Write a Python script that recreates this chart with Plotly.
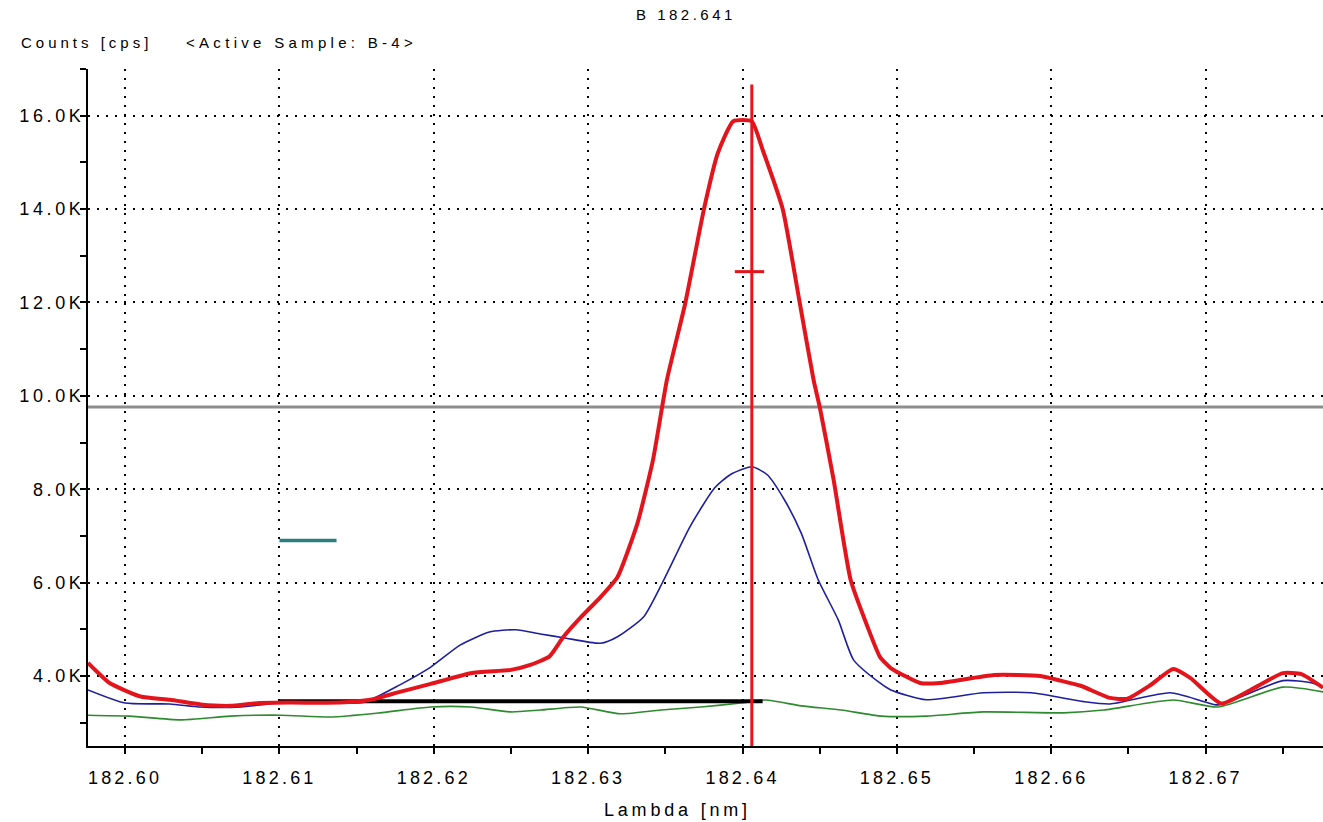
import plotly.graph_objects as go

# ---- spectrum data: wavelength (nm) and intensity (cps) ----
red_lambda = [182.5976, 182.5990, 182.6010, 182.6029, 182.6049, 182.6068, 182.6087, 182.6107,
              182.6139, 182.6159, 182.6178, 182.6198, 182.6224, 182.6250, 182.6262, 182.6275,
              182.6284, 182.6295, 182.6308, 182.6319, 182.6332, 182.6342, 182.6351, 182.6363,
              182.6375, 182.6384, 182.6394, 182.6406, 182.6413, 182.6426, 182.6437, 182.6446,
              182.6450, 182.6459, 182.6470, 182.6481, 182.6489, 182.6496, 182.6515, 182.6528,
              182.6563, 182.6593, 182.6606, 182.6619, 182.6638, 182.6649, 182.6664, 182.6679,
              182.6690, 182.6710, 182.6729, 182.6750, 182.6762, 182.6776]
red_counts = [4280, 3850, 3560, 3490, 3390, 3360, 3420, 3430,
              3430, 3490, 3660, 3830, 4060, 4130, 4230, 4420,
              4840, 5250, 5690, 6120, 7280, 8630, 10340, 12000,
              14000, 15200, 15880, 15880, 15270, 14000, 12000, 10340,
              9760, 8200, 6060, 5050, 4410, 4170, 3850, 3850,
              4020, 4000, 3900, 3790, 3530, 3510, 3800, 4150,
              3960, 3410, 3700, 4060, 4040, 3750]

blue_lambda = [182.5976, 182.6000, 182.6029, 182.6049, 182.6075, 182.6100, 182.6127, 182.6155,
               182.6178, 182.6198, 182.6217, 182.6236, 182.6253, 182.6269, 182.6284, 182.6308,
               182.6319, 182.6336, 182.6349, 182.6366, 182.6382, 182.6392, 182.6406, 182.6416,
               182.6427, 182.6438, 182.6449, 182.6462, 182.6472, 182.6489, 182.6496, 182.6519,
               182.6556, 182.6587, 182.6621, 182.6638, 182.6677, 182.6699, 182.6708, 182.6750,
               182.6769, 182.6776]
blue_counts = [3700, 3420, 3400, 3335, 3335, 3420, 3420, 3440,
               3810, 4190, 4660, 4940, 4990, 4900, 4820, 4700,
               4840, 5270, 6060, 7200, 8030, 8310, 8480, 8310,
               7780, 7060, 6060, 5200, 4340, 3850, 3700, 3490,
               3640, 3640, 3450, 3400, 3640, 3450, 3380, 3900,
               3850, 3750]

green_lambda = [182.5976, 182.6003, 182.6036, 182.6068, 182.6101, 182.6133, 182.6165, 182.6198,
                182.6224, 182.6250, 182.6269, 182.6295, 182.6321, 182.6347, 182.6373, 182.6399,
                182.6415, 182.6438, 182.6464, 182.6490, 182.6519, 182.6556, 182.6608, 182.6634,
                182.6679, 182.6708, 182.6750, 182.6776]
green_counts = [3160, 3140, 3060, 3140, 3160, 3120, 3210, 3335,
                3335, 3230, 3270, 3335, 3190, 3270, 3335, 3420,
                3485, 3360, 3270, 3140, 3140, 3230, 3210, 3270,
                3485, 3335, 3760, 3660]

# background level, marker bar, peak position and threshold
baseline_lambda = [182.6100, 182.6413]
baseline_counts = [3460, 3460]
marker_lambda = [182.6100, 182.6137]
marker_counts = [6900, 6900]
peak_line_lambda = [182.6406, 182.6406]
peak_line_counts = [2500, 16670]
peak_tick_lambda = [182.6395, 182.6414]
peak_tick_counts = [12660, 12660]
threshold_counts = 9760

# ---- axis ticks ----
x_tick_vals = [182.60, 182.61, 182.62, 182.63, 182.64, 182.65, 182.66, 182.67]
x_tick_text = ["182.60", "182.61", "182.62", "182.63", "182.64", "182.65", "182.66", "182.67"]
y_tick_vals = [4000, 6000, 8000, 10000, 12000, 14000, 16000]
y_tick_text = ["4.0K", "6.0K", "8.0K", "10.0K", "12.0K", "14.0K", "16.0K"]

X_RANGE = [182.5976, 182.6776]
Y_RANGE = [2500, 17000]

W, H = 1323, 822
ML, MR, MT, MB = 88, 0, 69, 76
PW, PH = W - ML - MR, H - MT - MB

FONT = "Liberation Sans, Arial, sans-serif"
INK = "#000000"


def spaced(s, ls):
    return f"<span style='letter-spacing:{ls}px'>{s}</span>"


def px_x(px):
    return (px - ML) / PW


def px_y(py):
    return (H - MB - py) / PH


fig = go.Figure()

fig.add_hline(y=threshold_counts, line=dict(color="#8e8e8e", width=3), layer="below")

fig.add_trace(go.Scatter(x=green_lambda, y=green_counts, mode="lines",
                         line=dict(color="#2e8a2e", width=1.6, shape="spline", smoothing=0.6)))
fig.add_trace(go.Scatter(x=baseline_lambda, y=baseline_counts, mode="lines",
                         line=dict(color="#000000", width=4)))
fig.add_trace(go.Scatter(x=blue_lambda, y=blue_counts, mode="lines",
                         line=dict(color="#1f1f9e", width=1.6, shape="spline", smoothing=0.6)))
fig.add_trace(go.Scatter(x=red_lambda, y=red_counts, mode="lines",
                         line=dict(color="#e3141c", width=4, shape="spline", smoothing=0.5)))
fig.add_trace(go.Scatter(x=peak_line_lambda, y=peak_line_counts, mode="lines",
                         line=dict(color="#e8141c", width=3)))
fig.add_trace(go.Scatter(x=peak_tick_lambda, y=peak_tick_counts, mode="lines",
                         line=dict(color="#e3141c", width=3)))
fig.add_trace(go.Scatter(x=marker_lambda, y=marker_counts, mode="lines",
                         line=dict(color="#2b7f7f", width=3.5)))

grid = dict(showgrid=True, gridcolor="#000000", gridwidth=1.5, griddash="2px,7px",
            zeroline=False)

fig.update_layout(
    width=W, height=H,
    margin=dict(l=ML, r=MR, t=MT, b=MB, pad=0),
    paper_bgcolor="white", plot_bgcolor="white",
    showlegend=False, hovermode=False,
    font=dict(family=FONT, size=18, color=INK),
    xaxis=dict(range=X_RANGE, tickmode="array", tickvals=x_tick_vals,
               ticktext=[spaced(t, 3.2) for t in x_tick_text],
               showline=True, linecolor="#000000", linewidth=2,
               ticks="outside", ticklen=6, tickwidth=2, tickcolor="#000000",
               ticklabelstandoff=8,
               minor=dict(tick0=182.60, dtick=0.005, ticks="outside", ticklen=6,
                          tickwidth=2, tickcolor="#000000", showgrid=False),
               tickfont=dict(size=18, color=INK), **grid),
    yaxis=dict(range=Y_RANGE, tickmode="array", tickvals=y_tick_vals,
               ticktext=[spaced(t, 3.6) for t in y_tick_text],
               showline=True, linecolor="#000000", linewidth=2,
               ticks="outside", ticklen=6, tickwidth=2, tickcolor="#000000",
               ticklabelstandoff=-8,
               minor=dict(tick0=3000, dtick=1000, ticks="outside", ticklen=6,
                          tickwidth=2, tickcolor="#000000", showgrid=False),
               tickfont=dict(size=18, color=INK), **grid),
    # overlay axes carrying the inner half of the cross-shaped ticks
    xaxis2=dict(range=X_RANGE, overlaying="x", anchor="y", side="bottom",
                tickmode="array", tickvals=x_tick_vals, showticklabels=False,
                ticks="inside", ticklen=6, tickwidth=2, tickcolor="#000000",
                minor=dict(tick0=182.60, dtick=0.005, ticks="inside", ticklen=6,
                           tickwidth=2, tickcolor="#000000", showgrid=False),
                showgrid=False, zeroline=False, showline=False),
    yaxis2=dict(range=Y_RANGE, overlaying="y", anchor="x", side="left",
                tickmode="array", tickvals=y_tick_vals, showticklabels=False,
                ticks="inside", ticklen=6, tickwidth=2, tickcolor="#000000",
                minor=dict(tick0=3000, dtick=1000, ticks="inside", ticklen=6,
                           tickwidth=2, tickcolor="#000000", showgrid=False),
                showgrid=False, zeroline=False, showline=False),
)

annotations = [
    dict(text=spaced("B 182.641", 3.5), x=px_x(686), y=px_y(15), size=15),
    dict(text=spaced("Counts [cps]", 4.0), x=px_x(86), y=px_y(43), size=15),
    dict(text=spaced("&lt;Active Sample: B-4&gt;", 4.3), x=px_x(301), y=px_y(43), size=15),
    dict(text=spaced("Lambda [nm]", 3.8), x=px_x(677), y=px_y(810), size=18),
]
for a in annotations:
    fig.add_annotation(text=a["text"], x=a["x"], y=a["y"], xref="paper", yref="paper",
                       showarrow=False, xanchor="center", yanchor="middle",
                       font=dict(family=FONT, size=a["size"], color=INK))

fig.write_html("out.html")
